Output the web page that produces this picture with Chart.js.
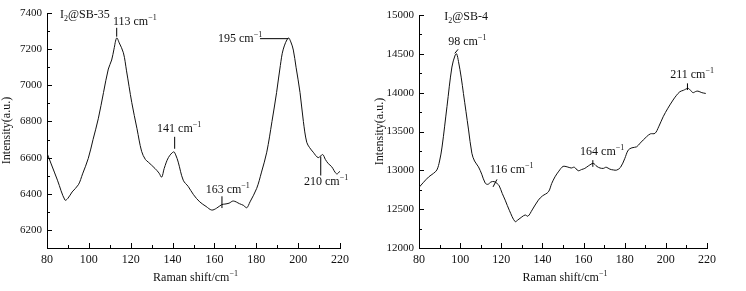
<!DOCTYPE html>
<html>
<head>
<meta charset="utf-8">
<script src="https://cdn.jsdelivr.net/npm/chart.js@4"></script>
<style>
  body { margin: 0; background: #fff; }
  .box { position: absolute; top: 0; width: 373px; height: 291px; }
</style>
</head>
<body>
<div class="box" style="left:0"><canvas id="left"></canvas></div>
<div class="box" style="left:373px"><canvas id="right"></canvas></div>
<script>
// Raman shift (cm-1) and intensity
const leftX = [80, 82, 85, 88.6, 90, 92, 95, 97, 99.7, 102, 104.5, 107, 109.3, 110.9, 112, 113.3, 114.5, 116.5, 118, 120.5, 123, 125.2, 127, 128.4, 131.6, 133.5, 134.8, 136, 138, 140.5, 141.5, 142.7, 145.1, 147.5, 150, 153, 156, 158.7, 161, 163.5, 165, 167, 169, 172, 174, 175.4, 177, 180.2, 182.5, 185, 187.5, 189.7, 191.5, 192.9, 195.3, 196.5, 197.7, 199, 200.9, 202.5, 204.1, 205.5, 207.2, 209.6, 211.7, 213, 214.4, 216, 218.4, 220];
const leftY = [6625, 6565, 6475, 6365, 6375, 6410, 6450, 6510, 6595, 6700, 6815, 6960, 7090, 7140, 7200, 7262, 7235, 7180, 7080, 6905, 6760, 6635, 6590, 6575, 6540, 6515, 6492, 6540, 6600, 6632, 6615, 6575, 6475, 6440, 6395, 6355, 6330, 6310, 6320, 6340, 6343, 6348, 6360, 6345, 6335, 6322, 6355, 6430, 6520, 6630, 6800, 6960, 7110, 7200, 7262, 7240, 7195, 7100, 6960, 6800, 6685, 6655, 6630, 6600, 6617, 6590, 6567, 6550, 6510, 6525];

const rightX = [80, 82, 84.7, 87, 88.7, 90, 91.2, 93.6, 96, 97.6, 98.3, 99.2, 100.5, 101.6, 104.1, 105.7, 107, 108.9, 110.5, 112.2, 113.5, 115, 116.5, 118, 119, 120.5, 121.9, 124, 126.7, 128, 130, 131.6, 133, 135, 138, 140, 142.9, 144.5, 146.1, 148, 150, 152, 154, 155.5, 157.4, 159, 160.6, 162.5, 164.7, 166.5, 168, 169.6, 171, 172.8, 174.5, 176.1, 178, 180, 181.7, 183.5, 185.8, 187.5, 190.6, 192.5, 194.7, 196.5, 198.7, 201, 203.5, 205, 206.8, 208.5, 210.8, 212, 213.2, 214.5, 215.6, 217.5, 219.4];
const rightY = [12780, 12840, 12915, 12960, 13005, 13120, 13300, 13820, 14330, 14485, 14500, 14400, 14200, 13990, 13520, 13220, 13120, 13045, 12950, 12835, 12820, 12850, 12855, 12830, 12800, 12700, 12616, 12480, 12340, 12360, 12400, 12425, 12410, 12490, 12616, 12670, 12723, 12830, 12916, 12990, 13050, 13045, 13030, 13040, 12995, 13010, 13025, 13060, 13089, 13050, 13030, 13025, 13040, 13015, 13005, 13003, 13040, 13150, 13260, 13290, 13303, 13350, 13432, 13470, 13476, 13560, 13690, 13800, 13905, 13960, 14012, 14030, 14055, 14030, 14000, 14015, 14020, 14000, 13990];

const xTicks = [80, 100, 120, 140, 160, 180, 200, 220];
const leftYTicks = [6200, 6400, 6600, 6800, 7000, 7200, 7400];
const rightYTicks = [12000, 12500, 13000, 13500, 14000, 14500, 15000];

// peak labels: text, label left/baseline (data units), leader line ends (data units)
const leftPeaks = [
  { text: '113', at: [111.5, 7334], line: [[113.3, 7269], [113.3, 7318]] },
  { text: '141', at: [132.6, 6743], line: [[141, 6649], [141, 6715]] },
  { text: '163', at: [155.8, 6403], line: [[163.6, 6321], [163.6, 6386]] },
  { text: '195', at: [161.7, 7241], line: [[181.8, 7258], [195.3, 7258]] },
  { text: '210', at: [202.8, 6447], line: [[210.8, 6501], [210.8, 6606]] }
];
const rightPeaks = [
  { text: '98', at: [94.2, 14613], line: [[97.4, 14506], [99, 14558]] },
  { text: '116', at: [114.4, 12960], line: [[116, 12787], [117.9, 12883]] },
  { text: '164', at: [158.3, 13196], line: [[164.5, 13045], [164.5, 13131]] },
  { text: '211', at: [202.1, 14184], line: [[210.5, 14034], [210.5, 14120]] }
];

const FONT = "'Liberation Serif', 'Times New Roman', serif";

function supText(ctx, x, y, base, sup, size) {
  ctx.font = size + 'px ' + FONT;
  ctx.fillText(base, x, y);
  let w = ctx.measureText(base).width;
  ctx.font = Math.round(size * 0.68) + 'px ' + FONT;
  ctx.fillText(sup, x + w, y - size * 0.42);
  return w + ctx.measureText(sup).width;
}

const marks = {
  id: 'marks',
  afterDraw(chart, args, opts) {
    const ctx = chart.ctx, a = chart.chartArea;
    const xs = chart.scales.x, ys = chart.scales.y;
    ctx.save();
    ctx.strokeStyle = '#000';
    ctx.lineWidth = 1;
    ctx.beginPath();
    // inward ticks
    for (let v = xs.min; v <= xs.max; v += 10) {
      const px = Math.round(xs.getPixelForValue(v)) + 0.5;
      const len = (v % 20 === 0) ? 5 : 3;
      ctx.moveTo(px, a.bottom);
      ctx.lineTo(px, a.bottom - len);
    }
    for (let v = opts.yStart; v <= ys.max; v += opts.yStep / 2) {
      const py = Math.round(ys.getPixelForValue(v)) + 0.5;
      const len = ((v - opts.yStart) % opts.yStep === 0) ? 5 : 3;
      ctx.moveTo(a.left, py);
      ctx.lineTo(a.left + len, py);
    }
    // leader lines
    opts.peaks.forEach(p => {
      ctx.moveTo(xs.getPixelForValue(p.line[0][0]), ys.getPixelForValue(p.line[0][1]));
      ctx.lineTo(xs.getPixelForValue(p.line[1][0]), ys.getPixelForValue(p.line[1][1]));
    });
    ctx.stroke();

    ctx.fillStyle = '#111';
    ctx.textBaseline = 'alphabetic';
    ctx.textAlign = 'left';
    opts.peaks.forEach(p => {
      supText(ctx, xs.getPixelForValue(p.at[0]), ys.getPixelForValue(p.at[1]), p.text + ' cm', '\u22121', 12);
    });

    // sample name with subscript
    let tx = xs.getPixelForValue(opts.name.at[0]), ty = ys.getPixelForValue(opts.name.at[1]);
    ctx.font = '12px ' + FONT;
    ctx.fillText('I', tx, ty);
    tx += ctx.measureText('I').width;
    ctx.font = '8px ' + FONT;
    ctx.fillText('2', tx, ty + 3);
    tx += ctx.measureText('2').width;
    ctx.font = '12px ' + FONT;
    ctx.fillText(opts.name.text, tx, ty);

    // x axis title
    ctx.font = '12px ' + FONT;
    let w1 = ctx.measureText('Raman shift/cm').width;
    ctx.font = '8px ' + FONT;
    let w2 = ctx.measureText('\u22121').width;
    const cx = (a.left + a.right) / 2 + 2 - (w1 + w2) / 2;
    supText(ctx, cx, 281, 'Raman shift/cm', '\u22121', 12);
    ctx.restore();
  }
};

function makeChart(id, xv, yv, yMin, yMax, yTicks, pad, yWidth, peaks, name) {
  return new Chart(document.getElementById(id), {
    type: 'line',
    data: {
      datasets: [{
        data: xv.map((v, i) => ({ x: v, y: yv[i] })),
        borderColor: '#111',
        borderWidth: 1,
        pointRadius: 0,
        tension: 0.35,
        fill: false
      }]
    },
    options: {
      responsive: true,
      maintainAspectRatio: false,
      animation: false,
      layout: { padding: pad },
      plugins: {
        legend: { display: false },
        tooltip: { enabled: false },
        marks: { peaks: peaks, name: name, yStart: yTicks[0], yStep: yTicks[1] - yTicks[0] }
      },
      scales: {
        x: {
          type: 'linear',
          min: 80, max: 220,
          afterBuildTicks: s => { s.ticks = xTicks.map(v => ({ value: v })); },
          afterFit: s => { s.height = 43; },
          grid: { display: false, drawTicks: false },
          border: { display: true, color: '#000', width: 1 },
          ticks: { color: '#111', font: { family: FONT, size: 12 }, padding: 5, maxRotation: 0, callback: v => String(v) }
        },
        y: {
          min: yMin, max: yMax,
          afterBuildTicks: s => { s.ticks = yTicks.map(v => ({ value: v })); },
          afterFit: s => { s.width = yWidth; },
          grid: { display: false, drawTicks: false },
          border: { display: true, color: '#000', width: 1 },
          ticks: { color: '#111', font: { family: FONT, size: 11 }, padding: 5, callback: v => String(v) },
          title: { display: true, text: 'Intensity(a.u.)', color: '#111', font: { family: FONT, size: 12 }, padding: 0 }
        }
      }
    },
    plugins: [marks]
  });
}

makeChart('left', leftX, leftY, 6100, 7400, leftYTicks, { top: 13, right: 33, left: 0, bottom: 0 }, 47, leftPeaks, { text: '@SB-35', at: [86.2, 7373] });
makeChart('right', rightX, rightY, 12000, 15000, rightYTicks, { top: 15, right: 39, left: 0, bottom: 0 }, 46, rightPeaks, { text: '@SB-4', at: [92.3, 14936] });
</script>
</body>
</html>
